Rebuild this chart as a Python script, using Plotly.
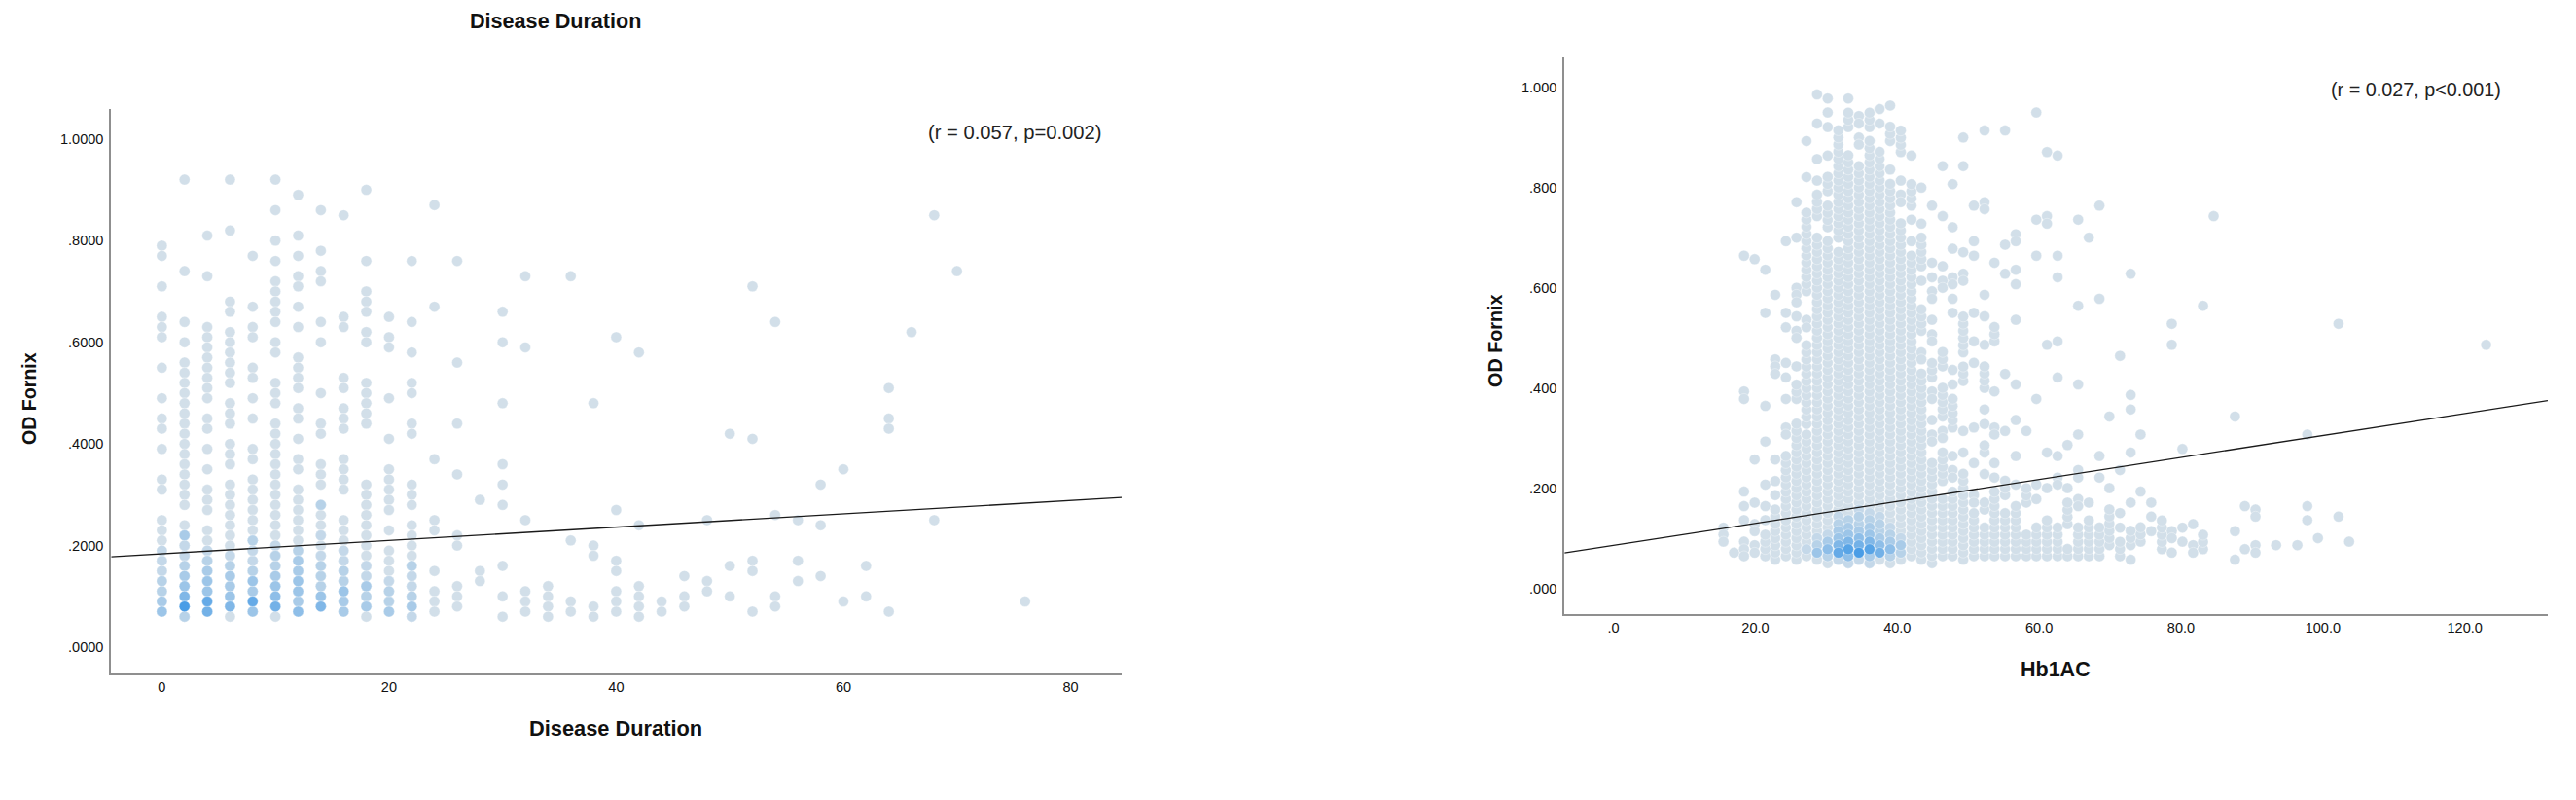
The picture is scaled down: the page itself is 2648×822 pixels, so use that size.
import plotly.graph_objects as go

W, H = 2648, 822

# ---------- Left panel: Disease Duration vs OD Fornix ----------
DUR_X_TICKS = [0, 20, 40, 60, 80]
DUR_Y_TICKS = [0, .2, .4, .6, .8, 1.0]
DUR_Y_LABELS = [".0000", ".2000", ".4000", ".6000", ".8000", "1.0000"]
DUR_LINE_X = [-4.46, 84.5]
DUR_LINE_Y = [.178, .2945]

DUR_COLUMNS = {
    0: [.79,.77,.71,.65,.63,.61,.55,.49,.45,.43,.39,.33,.31,.25,.23,.21,.19,.17,.15,.13,.11,.09,.07],
    2: [.92,.74,.64,.60,.56,.54,.52,.50,.48,.46,.44,.42,.40,.38,.36,.34,.32,.30,.28,.24,.22,.20,.18,.16,.14,.12,.10,.08,.06],
    4: [.81,.73,.63,.61,.59,.57,.55,.53,.51,.49,.45,.43,.39,.35,.31,.29,.27,.23,.21,.19,.17,.15,.13,.11,.09,.07],
    6: [.92,.82,.68,.66,.62,.60,.58,.56,.54,.52,.48,.46,.44,.40,.38,.36,.32,.30,.28,.26,.24,.22,.20,.18,.16,.14,.12,.10,.08,.06],
    8: [.77,.67,.63,.61,.55,.53,.49,.45,.39,.37,.33,.31,.29,.27,.25,.23,.21,.19,.17,.15,.13,.11,.09,.07],
    10: [.92,.86,.80,.76,.72,.70,.68,.66,.64,.60,.58,.52,.50,.48,.44,.42,.40,.38,.36,.34,.32,.30,.28,.26,.24,.22,.20,.18,.16,.14,.12,.10,.08,.06],
    12: [.89,.81,.77,.73,.71,.67,.63,.57,.55,.53,.51,.47,.45,.41,.37,.35,.31,.29,.27,.25,.23,.21,.19,.17,.15,.13,.11,.09,.07],
    14: [.86,.78,.74,.72,.64,.60,.50,.44,.42,.36,.34,.32,.28,.26,.24,.22,.20,.18,.16,.14,.12,.10,.08],
    16: [.85,.65,.63,.53,.51,.47,.45,.43,.37,.35,.33,.31,.25,.23,.21,.19,.17,.15,.13,.11,.09,.07],
    18: [.90,.76,.70,.68,.66,.62,.60,.52,.50,.48,.46,.44,.32,.30,.28,.26,.24,.22,.20,.18,.16,.14,.12,.10,.08,.06],
    20: [.65,.61,.59,.49,.41,.35,.33,.31,.29,.27,.23,.19,.17,.15,.13,.11,.09,.07],
    22: [.76,.64,.58,.52,.50,.44,.42,.32,.30,.28,.24,.22,.20,.18,.16,.14,.12,.10,.08,.06],
    24: [.87,.67,.37,.25,.23,.15,.11,.09,.07],
    26: [.76,.56,.44,.34,.22,.20,.12,.10,.08],
    28: [.29,.15,.13],
    30: [.66,.60,.48,.36,.32,.28,.16,.10,.06],
    32: [.73,.59,.25,.11,.09,.07],
    34: [.12,.10,.08,.06],
    36: [.73,.21,.09,.07],
    38: [.48,.20,.18,.08,.06],
    40: [.61,.27,.17,.15,.11,.09,.07],
    42: [.58,.24,.12,.10,.08,.06],
    44: [.09,.07],
    46: [.14,.10,.08],
    48: [.25,.13,.11],
    50: [.42,.16,.10],
    52: [.71,.41,.17,.15,.07],
    54: [.64,.26,.10,.08],
    56: [.25,.17,.13],
    58: [.32,.24,.14],
    60: [.35,.09],
    62: [.16,.10],
    64: [.51,.45,.43,.07],
    66: [.62],
    68: [.85,.25],
    70: [.74],
    76: [.09],
}

# density level (0-10) of the darker dots: x -> [(y, level), ...]
DUR_DENSE = {
    0: [(.07,4),(.09,3),(.11,2),(.13,2),(.15,1),(.17,1),(.19,1)],
    2: [(.06,2),(.08,10),(.10,6),(.12,4),(.14,3),(.16,2),(.18,1),(.20,1),(.22,3)],
    4: [(.07,7),(.09,8),(.11,4),(.13,4),(.15,3),(.17,2),(.19,1)],
    6: [(.08,6),(.10,4),(.12,3),(.14,3),(.16,2),(.18,1)],
    8: [(.07,4),(.09,8),(.11,3),(.13,4),(.15,2),(.17,1),(.19,1),(.21,2)],
    10: [(.08,7),(.10,5),(.12,4),(.14,3),(.16,2),(.18,2),(.20,1)],
    12: [(.07,5),(.09,3),(.11,4),(.13,4),(.15,3),(.17,3),(.19,2)],
    14: [(.08,6),(.10,4),(.12,2),(.14,2),(.16,2),(.18,1),(.22,1),(.28,2)],
    16: [(.07,3),(.09,3),(.11,4),(.13,2),(.15,2),(.17,1),(.19,1)],
    18: [(.08,3),(.10,2),(.12,3),(.14,1),(.16,1)],
    20: [(.07,3),(.09,2),(.11,2),(.13,1)],
    22: [(.06,1),(.08,3),(.10,2),(.12,1),(.14,1),(.16,2)],
}

# ---------- Right panel: Hb1AC vs OD Fornix ----------
HB_X_TICKS = [0, 20, 40, 60, 80, 100, 120]
HB_X_LABELS = [".0", "20.0", "40.0", "60.0", "80.0", "100.0", "120.0"]
HB_Y_TICKS = [0, .2, .4, .6, .8, 1.0]
HB_Y_LABELS = [".000", ".200", ".400", ".600", ".800", "1.000"]
HB_LINE_X = [-6.91, 131.7]
HB_LINE_Y = [.0714, .3755]
HB_BIN = .01429  # height of one data bin in a column

# x -> entries; a float is one bin, a (low, high) pair is a run of filled bins
HB_COLUMNS = {
    15.5: [.122,.108,.094],
    17.0: [.072],
    18.4: [.665,.394,.379,.194,.165,.137,.094,.079,.065],
    19.9: [.658,.258,.172,.129,.115,.087,.072],
    21.4: [.637,.551,.365,.294,.208,.165,.137,(.065,.108)],
    22.8: [.587,.458,.444,.429,.258,.215,.187,(.058,.158)],
    24.3: [.694,.551,.522,.451,.422,.379,.322,.308,(.065,.265)],
    25.8: [.772,.701,.601,.587,.572,.544,.515,.501,.444,(.379,.415),(.058,.329)],
    27.2: [.894,.822,(.594,.758),.537,.522,(.329,.494),(.065,.308)],
    28.7: [.987,.929,.858,.815,(.744,.787),(.058,.701)],
    30.2: [.979,.951,.922,.865,(.794,.822),(.722,.765),(.051,.694)],
    31.7: [(.701,.915),(.058,.672)],
    33.1: [.979,(.922,.951),(.051,.865)],
    34.6: [.944,.929,.901,.887,(.058,.844)],
    36.1: [(.922,.951),(.051,.894)],
    37.5: [.958,.929,(.058,.872)],
    39.0: [.965,(.894,.922),.837,(.051,.808)],
    40.5: [(.872,.915),.815,.787,.772,(.058,.729)],
    42.0: [.865,(.765,.808),.737,.694,(.065,.665)],
    43.4: [.801,.729,(.644,.701),.615,(.515,.558),.472,.458,(.058,.429)],
    44.9: [.765,.651,.622,.594,.579,.537,.508,.494,(.422,.451),.394,.379,.337,.308,.294,(.051,.251)],
    46.4: [.844,.744,.644,.615,.601,(.444,.472),(.344,.401),.315,.301,(.215,.272),(.065,.187)],
    47.8: [.808,.722,.679,.622,.608,.579,.551,.437,.408,(.322,.379),.265,.237,.222,(.065,.194)],
    49.3: [.901,.844,.672,.629,.615,(.472,.551),(.415,.444),.315,.272,(.058,.229)],
    50.8: [.765,.694,.665,.551,.494,.451,.322,.251,.187,.172,(.065,.151)],
    52.3: [.915,.772,.758,.587,.544,.487,(.401,.444),.358,.329,(.272,.294),.229,(.158,.172),(.065,.129)],
    53.7: [.651,(.494,.522),.394,.322,.308,.251,.222,(.065,.194)],
    55.2: [.915,.687,.629,.429,.315,(.187,.215),(.065,.151)],
    56.7: [.708,.694,.637,.608,.537,.408,.337,.265,.208,(.065,.172)],
    58.2: [.315,(.172,.201),(.065,.115)],
    59.6: [.951,.737,.665,.379,.208,.179,(.065,.129)],
    61.1: [.872,.744,.729,.487,.272,.201,(.065,.144)],
    62.6: [.865,.665,.622,.494,.422,.265,.222,.208,(.065,.122)],
    64.0: [.287,.201,(.129,.179),(.065,.087)],
    65.5: [.737,.565,.408,.308,.237,.222,.179,.165,(.065,.122)],
    67.0: [.701,.172,(.065,.144)],
    68.5: [.765,.579,.265,.222,(.065,.122)],
    69.9: [.344,.201,(.087,.158)],
    71.4: [.465,.237,.151,.122,(.065,.094)],
    72.9: [.629,.387,.358,.272,.172,(.087,.115),.058],
    74.3: [.308,.194,(.094,.122)],
    75.8: [.172,.144,.115],
    77.3: [(.079,.137)],
    78.7: [.529,.487,.115,.101,.072],
    80.2: [.279,.122,.094],
    81.7: [.129,.087,.072],
    83.1: [.565,(.079,.108)],
    84.6: [.744],
    87.6: [.344,.115,.058],
    89.0: [.165,.079],
    90.5: [.158,.144,.087,.072],
    93.4: [.087],
    96.4: [.087],
    97.8: [.308,.165,.137],
    99.3: [.101],
    102.2: [.529,.144],
    103.7: [.094],
    123.0: [.487],
}

HB_DENSE = {
    27.2: [(.079,1)],
    28.7: [(.072,4),(.087,2),(.101,1)],
    30.2: [(.065,2),(.079,5),(.094,3),(.108,1)],
    31.7: [(.058,1),(.072,8),(.087,6),(.101,4),(.115,3),(.129,2),(.144,1)],
    33.1: [(.051,1),(.065,5),(.079,9),(.094,6),(.108,4),(.122,3),(.137,2)],
    34.6: [(.058,1),(.072,10),(.087,7),(.101,5),(.115,3),(.129,2),(.144,2),(.158,1)],
    36.1: [(.051,1),(.065,3),(.079,9),(.094,6),(.108,4),(.122,3),(.137,2),(.151,1)],
    37.5: [(.072,7),(.087,5),(.101,3),(.115,2),(.129,2),(.144,1)],
    39.0: [(.065,2),(.079,5),(.094,3),(.108,2),(.122,1)],
    40.5: [(.072,2),(.087,3),(.101,1)],
}

# ---------- Styles ----------
DOT_SCALE = [[0, "#d2dfe9"], [1, "#4a9de6"]]
AXIS_GREY = "#8f8f8f"
FONT = "Liberation Sans, Arial, sans-serif"
DOT_SIZE = 11
DOT_EDGE = .35


def expand(columns):
    xs, ys = [], []
    for x, entries in columns.items():
        for e in entries:
            if isinstance(e, tuple):
                y = e[0]
                while y <= e[1] + .003:
                    xs.append(x)
                    ys.append(y)
                    y += HB_BIN
            else:
                xs.append(x)
                ys.append(e)
    return xs, ys


def dense(columns):
    xs, ys, ls = [], [], []
    for x, entries in columns.items():
        for y, level in entries:
            xs.append(x)
            ys.append(y)
            ls.append(level)
    order = sorted(range(len(ls)), key=lambda i: ls[i])
    return [xs[i] for i in order], [ys[i] for i in order], [ls[i] for i in order]


def add_panel(fig, columns, dense_cols, line_x, line_y, xa, ya):
    x, y = expand(columns)
    fig.add_trace(go.Scatter(x=x, y=y, mode="markers", xaxis=xa, yaxis=ya, showlegend=False,
                             marker=dict(size=DOT_SIZE, color="#d2dfe9", line=dict(color="#ffffff", width=DOT_EDGE))))
    dx, dy, dl = dense(dense_cols)
    fig.add_trace(go.Scatter(x=dx, y=dy, mode="markers", xaxis=xa, yaxis=ya, showlegend=False,
                             marker=dict(size=DOT_SIZE, color=dl, cmin=0, cmax=10, colorscale=DOT_SCALE,
                                         showscale=False, line=dict(color="#ffffff", width=DOT_EDGE))))
    fig.add_trace(go.Scatter(x=line_x, y=line_y, mode="lines", xaxis=xa, yaxis=ya, showlegend=False,
                             line=dict(color="#1a1a1a", width=1.3)))


fig = go.Figure()
add_panel(fig, DUR_COLUMNS, DUR_DENSE, DUR_LINE_X, DUR_LINE_Y, "x", "y")
add_panel(fig, HB_COLUMNS, HB_DENSE, HB_LINE_X, HB_LINE_Y, "x2", "y2")


def px(v):
    return v / W


def py(v):
    return 1 - v / H


axis_common = dict(showgrid=False, zeroline=False, showline=True, linecolor=AXIS_GREY, linewidth=2,
                   ticks="", tickfont=dict(family=FONT, size=14.5, color="#111111"))

fig.update_layout(
    width=W, height=H, autosize=False, paper_bgcolor="white", plot_bgcolor="white",
    margin=dict(l=0, r=0, t=0, b=0), font=dict(family=FONT),
    xaxis=dict(domain=[px(114.3), px(1153)], range=[-4.46, 84.5], anchor="y", tickvals=DUR_X_TICKS,
               ticktext=[str(v) for v in DUR_X_TICKS], **axis_common),
    yaxis=dict(domain=[py(692), py(112)], range=[-.0517, 1.059], anchor="x", tickvals=DUR_Y_TICKS,
               ticktext=DUR_Y_LABELS, ticklabelstandoff=3, **axis_common),
    xaxis2=dict(domain=[px(1608.2), px(2619)], range=[-6.91, 131.7], anchor="y2", tickvals=HB_X_TICKS,
                ticktext=HB_X_LABELS, **axis_common),
    yaxis2=dict(domain=[py(631), py(59)], range=[-.0507, 1.061], anchor="x2", tickvals=HB_Y_TICKS,
                ticktext=HB_Y_LABELS, ticklabelstandoff=3, **axis_common),
)


def text(s, x, y, size, bold=False, angle=0, color="#111111"):
    fig.add_annotation(text=f"<b>{s}</b>" if bold else s, x=px(x), y=py(y), xref="paper", yref="paper",
                       xanchor="center", yanchor="middle", showarrow=False, textangle=angle,
                       font=dict(family=FONT, size=size, color=color))


text("Disease Duration", 571, 21, 21.6, True)
text("Disease Duration", 633, 748, 21.8, True)
text("OD Fornix", 30, 410, 19.6, True, -90)
text("OD Fornix", 1537, 350, 19.8, True, -90)
text("Hb1AC", 2113, 688, 21.5, True)
text("(r = 0.057, p=0.002)", 1042.5, 136.4, 20.2, color="#222222")
text("(r = 0.027, p<0.001)", 2483, 92, 19.8, color="#222222")

fig.write_html("out.html", config=dict(displayModeBar=False),
               post_script="document.body.style.margin='0';")
